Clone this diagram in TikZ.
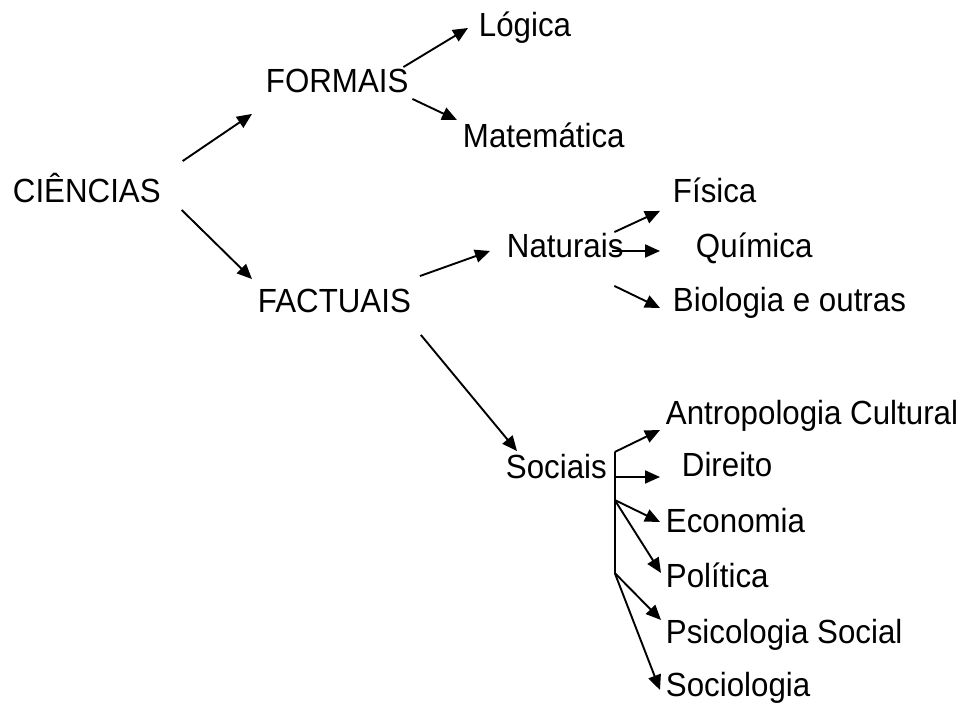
\documentclass[tikz,border=0pt]{standalone}
\usepackage{fontspec}
\usepackage{graphicx}
\setmainfont{Liberation Sans}
\usetikzlibrary{arrows.meta}
\newcommand{\alto}[1]{\scalebox{1}[1.07]{#1}}
\begin{document}
\begin{tikzpicture}[>={Triangle[length=15bp,width=13bp]},line join=bevel,
  termo/.style={anchor=base west,inner sep=0pt,text height=23bp,text depth=7bp,
    font=\fontsize{31.4}{36}\selectfont}]
  \pgfsetlinewidth{1.9bp}
  \useasboundingbox (0bp,0bp) rectangle (966bp,704bp);
%%
  % Node: CIENCIAS
  \node [termo] (cien) at (12bp,501bp) {\alto{CIÊNCIAS}};
  % Node: FORMAIS
  \node [termo] (form) at (265bp,611bp) {\alto{FORMAIS}};
  % Node: Logica
  \node [termo] (logi) at (478bp,667bp) {\alto{Lógica}};
  % Node: Matematica
  \node [termo] (mate) at (462bp,556bp) {\alto{Matemática}};
  % Node: FACTUAIS
  \node [termo] (fact) at (257bp,391bp) {\alto{FACTUAIS}};
  % Node: Naturais
  \node [termo] (natu) at (506bp,446bp) {\alto{Naturais}};
  % Node: Fisica
  \node [termo] (fisi) at (672bp,501bp) {\alto{Física}};
  % Node: Quimica
  \node [termo] (quim) at (695bp,446bp) {\alto{Química}};
  % Node: Biologia
  \node [termo] (biol) at (672bp,392bp) {\alto{Biologia e outras}};
  % Node: Sociais
  \node [termo] (soci) at (505bp,225bp) {\alto{Sociais}};
  % Node: Antropologia
  \node [termo] (antr) at (665bp,279bp) {\alto{Antropologia Cultural}};
  % Node: Direito
  \node [termo] (dire) at (681bp,227bp) {\alto{Direito}};
  % Node: Economia
  \node [termo] (econ) at (665bp,171bp) {\alto{Economia}};
  % Node: Politica
  \node [termo] (poli) at (665bp,116bp) {\alto{Política}};
  % Node: Psicologia
  \node [termo] (psic) at (665bp,60bp) {\alto{Psicologia Social}};
  % Node: Sociologia
  \node [termo] (socl) at (665bp,8bp) {\alto{Sociologia}};
%%
  % Edge: CIENCIAS -> FORMAIS
  \draw [->] ([shift={(21bp,18bp)}]cien.north east) -- ([shift={(-13bp,-13bp)}]form.south west);
  % Edge: CIENCIAS -> FACTUAIS
  \draw [->] ([shift={(20bp,1bp)}]cien.south east) -- ([shift={(-5bp,10bp)}]fact.north west);
  % Edge: FORMAIS -> Logica
  \draw [->] ([shift={(-6bp,2bp)}]form.north east) -- ([shift={(-10bp,1bp)}]logi.west);
  % Edge: FORMAIS -> Matematica
  \draw [->] ([shift={(3bp,2bp)}]form.south east) -- ([shift={(-5bp,4bp)}]mate.north west);
  % Edge: FACTUAIS -> Naturais
  \draw [->] ([shift={(8bp,13bp)}]fact.north east) -- ([shift={(-16bp,-1bp)}]natu.west);
  % Edge: FACTUAIS -> Sociais
  \draw [->] ([shift={(9bp,-14bp)}]fact.south east) -- ([shift={(12bp,4bp)}]soci.north west);
  % Edge: Naturais -> Fisica
  \draw [->] ([shift={(-10bp,2bp)}]natu.north east) -- ([shift={(-12bp,0bp)}]fisi.south west);
  % Edge: Naturais -> Quimica
  \draw [->] ([shift={(-12bp,-1bp)}]natu.east) -- ([shift={(-35bp,-1bp)}]quim.west);
  % Edge: Naturais -> Biologia
  \draw [->] ([shift={(-10bp,-20bp)}]natu.south east) -- ([shift={(-12bp,-4bp)}]biol.west);
  % Sociais: chave
  \coordinate (sTop) at ([shift={(7bp,19bp)}]soci.east);
  \coordinate (sDir) at ([shift={(7bp,-6bp)}]soci.east);
  \coordinate (sEco) at ([shift={(7bp,-29bp)}]soci.east);
  \coordinate (sBot) at ([shift={(7bp,-102bp)}]soci.east);
  \draw (sTop) -- (sBot);
  % Edge: Sociais -> Antropologia
  \draw [->] (sTop) -- ([shift={(-5bp,-13bp)}]antr.west);
  % Edge: Sociais -> Direito
  \draw [->] (sDir) -- ([shift={(-21bp,-8bp)}]dire.west);
  % Edge: Sociais -> Economia
  \draw [->] (sEco) -- ([shift={(-5bp,3bp)}]econ.west);
  % Edge: Sociais -> Politica
  \draw [->] (sEco) -- ([shift={(-4bp,7bp)}]poli.west);
  % Edge: Sociais -> Psicologia
  \draw [->] (sBot) -- ([shift={(-4bp,16bp)}]psic.west);
  % Edge: Sociais -> Sociologia
  \draw [->] (sBot) -- ([shift={(-5bp,-2bp)}]socl.west);
%
\end{tikzpicture}
\end{document}
